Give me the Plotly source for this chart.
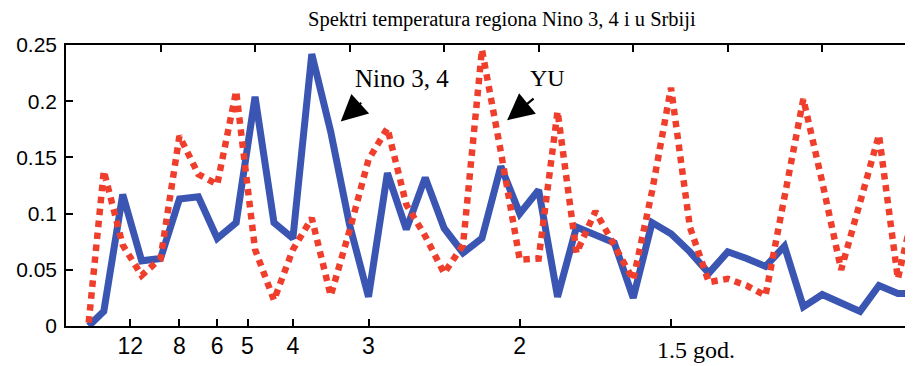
import plotly.graph_objects as go

# frequency index (harmonic number); first point read slightly right of 1
freq_index = [1.2] + list(range(2, 46))

nino = [0.0, 0.013, 0.117, 0.058, 0.060, 0.113, 0.115, 0.078, 0.092, 0.204,
        0.092, 0.078, 0.242, 0.173, 0.090, 0.026, 0.136, 0.086, 0.132, 0.087,
        0.065, 0.078, 0.142, 0.100, 0.121, 0.026, 0.088, 0.081, 0.074, 0.025,
        0.092, 0.082, 0.066, 0.047, 0.066, 0.060, 0.053, 0.071, 0.017, 0.028,
        0.020, 0.013, 0.036, 0.029, 0.029]

yu = [0.003, 0.138, 0.072, 0.045, 0.060, 0.169, 0.135, 0.126, 0.209, 0.068,
      0.023, 0.068, 0.096, 0.027, 0.085, 0.148, 0.176, 0.108, 0.080, 0.047,
      0.072, 0.246, 0.155, 0.059, 0.060, 0.191, 0.065, 0.102, 0.072, 0.041,
      0.120, 0.212, 0.088, 0.039, 0.042, 0.036, 0.027, 0.118, 0.202, 0.128,
      0.050, 0.110, 0.170, 0.042, 0.115]

period_tick_pos = [3.4, 6, 8, 9.6, 12, 16, 24, 32]
period_tick_labels = ["12", "8", "6", "5", "4", "3", "2", ""]
last_period_label = "1.5 god."
top_ticks = [5, 10, 15, 20, 25, 30, 35, 40]
y_ticks = [0, 0.05, 0.1, 0.15, 0.2, 0.25]
y_tick_labels = ["0", "0.05", "0.1", "0.15", "0.2", "0.25"]

title_text = "Spektri temperatura regiona Nino 3, 4 i u Srbiji"

XR = [0, 44.8]
YR = [0, 0.25]

fig = go.Figure()
fig.add_trace(go.Scatter(x=freq_index, y=nino, mode="lines", name="Nino 3, 4",
                         line=dict(color="#3a56b2", width=7), xaxis="x", yaxis="y"))
fig.add_trace(go.Scatter(x=freq_index, y=yu, mode="lines", name="YU",
                         line=dict(color="#ef3e2c", width=6.5, dash="6.5px,5.5px"),
                         xaxis="x2", yaxis="y"))

sans = "Liberation Sans, Arial, sans-serif"
serif = "Liberation Serif, Times New Roman, serif"

# page body has an 8px margin: figure sized/offset to compensate
fig.update_layout(
    width=905, height=358,
    margin=dict(l=58, r=0, t=37, b=40),
    paper_bgcolor="white", plot_bgcolor="white",
    showlegend=False,
    xaxis=dict(range=XR, tickvals=period_tick_pos, ticktext=period_tick_labels,
               ticks="inside", ticklen=7, tickwidth=1.5, tickcolor="black",
               showline=True, linecolor="black", linewidth=1.5,
               showgrid=False, zeroline=False, automargin=False,
               tickfont=dict(family=sans, size=23, color="black"),
               ticklabelstandoff=-1),
    xaxis2=dict(range=XR, overlaying="x", side="top", anchor="y",
                tickvals=top_ticks, showticklabels=False,
                ticks="inside", ticklen=7, tickwidth=1.5, tickcolor="black",
                showline=True, linecolor="black", linewidth=1.5,
                showgrid=False, zeroline=False, automargin=False),
    yaxis=dict(range=YR, tickvals=y_ticks, ticktext=y_tick_labels,
               ticks="inside", ticklen=7, tickwidth=1.5, tickcolor="black",
               showline=True, linecolor="black", linewidth=1.5, mirror="ticks",
               showgrid=False, zeroline=False, automargin=False,
               tickfont=dict(family=sans, size=21, color="black"),
               ticklabelstandoff=3),
)

fig.add_annotation(text=title_text, xref="paper", yref="paper",
                   x=(502 - 66) / 847, y=1.0, yshift=26, xanchor="center", yanchor="middle",
                   showarrow=False, font=dict(family=serif, size=20.5, color="black"))

# arrows and labels
fig.add_annotation(x=14.53, y=0.182, xref="x", yref="y", text="", showarrow=True,
                   ax=22, ay=-20, arrowhead=2, arrowsize=2.4, arrowwidth=2.2, arrowcolor="black")
fig.add_annotation(x=23.33, y=0.183, xref="x", yref="y", text="", showarrow=True,
                   ax=28, ay=-23, arrowhead=2, arrowsize=2.4, arrowwidth=2.2, arrowcolor="black")
fig.add_annotation(x=17.79, y=0.2206, xref="x", yref="y", text="Nino 3, 4", showarrow=False,
                   font=dict(family=serif, size=25, color="black"))
fig.add_annotation(x=25.45, y=0.2204, xref="x", yref="y", text="YU", showarrow=False,
                   font=dict(family=serif, size=24, color="black"))
fig.add_annotation(x=31.15, y=0, xref="x", yref="paper", yshift=-24, text=last_period_label,
                   xanchor="left", yanchor="middle", showarrow=False,
                   font=dict(family=serif, size=24, color="black"))

fig.write_html("out.html")
